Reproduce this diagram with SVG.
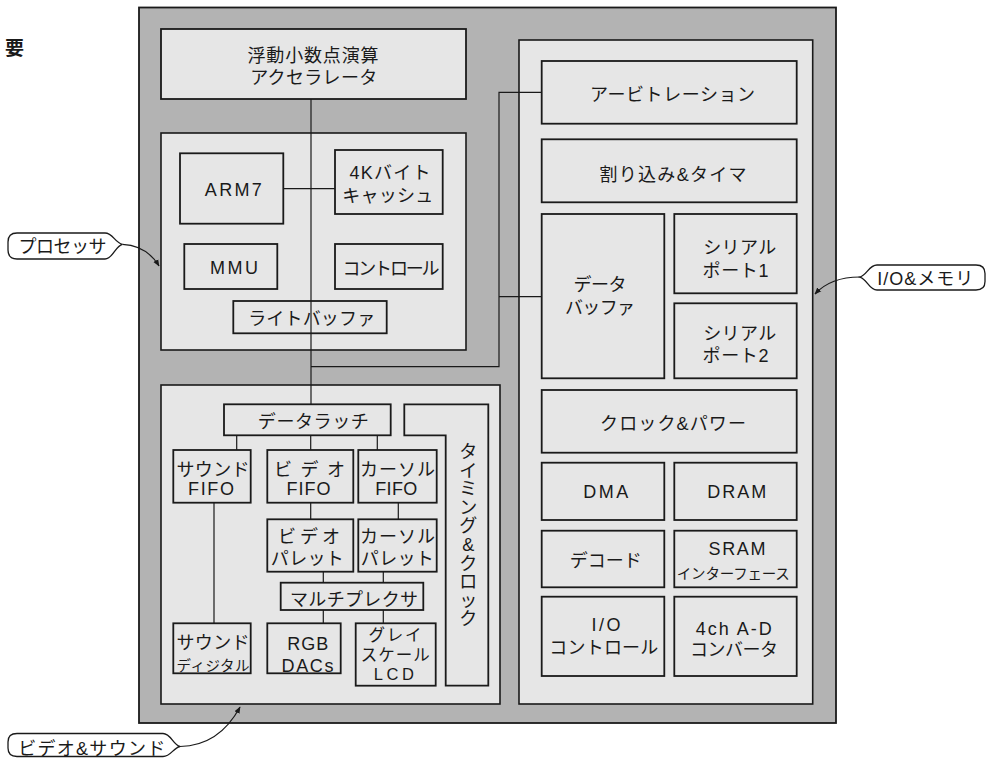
<svg xmlns="http://www.w3.org/2000/svg" width="995" height="759" viewBox="0 0 995 759">
<defs>
<style>
.bg{fill:#b3b3b3;stroke:#1a1a1a;stroke-width:1.8}
.panel{fill:#e6e6e6;stroke:#1a1a1a;stroke-width:1.6}
.box{fill:#e6e6e6;stroke:#1a1a1a;stroke-width:1.8}
.t{font-family:"Liberation Sans","Noto Sans CJK JP",sans-serif;font-size:18px;fill:#1a1a1a;text-anchor:middle}
.s{font-size:14.5px}
.m{font-size:16.5px}
.wire{fill:none;stroke:#1a1a1a;stroke-width:1.2}
.bub{fill:#ffffff;stroke:#1a1a1a;stroke-width:1.3}
.lead{fill:none;stroke:#1a1a1a;stroke-width:1.2}
</style>
<marker id="ah" viewBox="0 0 10 10" refX="9" refY="5" markerWidth="7" markerHeight="7" orient="auto" markerUnits="userSpaceOnUse">
<path d="M0,1 L10,5 L0,9 Z" fill="#1a1a1a"/>
</marker>
</defs>

<text x="24" y="55" style="font-family:'Noto Sans CJK JP',sans-serif;font-size:19px;font-weight:bold;fill:#1a1a1a;text-anchor:end">要</text>

<rect id="chip" class="bg" x="139" y="7.5" width="697" height="715.5"/>

<g id="accelerator">
<rect class="box" x="161" y="29" width="305" height="70"/>
<text class="t" x="313" y="61.5" textLength="131" lengthAdjust="spacing">浮動小数点演算</text>
<text class="t" x="313.7" y="83.5" textLength="127" lengthAdjust="spacing">アクセラレータ</text>
</g>

<g id="processor">
<rect class="panel" x="161" y="133" width="305" height="217"/>
</g>
<g id="arm7"><rect class="box" x="180" y="153.3" width="103.3" height="70.4"/>
<text class="t" x="233.3" y="195.5" textLength="57" lengthAdjust="spacing">ARM7</text></g>
<g id="cache"><rect class="box" x="335" y="150" width="107.7" height="64"/>
<text class="t" x="390" y="178.5" textLength="81" lengthAdjust="spacing">4Kバイト</text>
<text class="t" x="387.7" y="202" textLength="91" lengthAdjust="spacing">キャッシュ</text></g>
<g id="mmu"><rect class="box" x="184.3" y="244" width="93" height="45"/>
<text class="t" x="234" y="274" textLength="48" lengthAdjust="spacing">MMU</text></g>
<g id="control"><rect class="box" x="335" y="244" width="107.7" height="45"/>
<text class="t" x="391" y="275" textLength="97" lengthAdjust="spacing">コントロール</text></g>
<g id="writebuffer"><rect class="box" x="233.3" y="301" width="153.4" height="32.3"/>
<text class="t" x="311.7" y="325" textLength="127" lengthAdjust="spacing">ライトバッファ</text></g>

<g id="videosound">
<rect class="panel" x="161" y="385" width="339" height="319"/>
</g>
<g id="datalatch"><rect class="box" x="224" y="404.3" width="166.7" height="31"/>
<text class="t" x="313.3" y="428" textLength="111" lengthAdjust="spacing">データラッチ</text></g>
<g id="timing"><path class="box" d="M404.3,404.3 H488.3 V685.7 H445.7 V435.3 H404.3 Z"/>
<text class="t"><tspan x="468.3" y="458">タ</tspan><tspan x="468.3" y="476.6">イ</tspan><tspan x="468.3" y="495.2">ミ</tspan><tspan x="468.3" y="513.8">ン</tspan><tspan x="468.3" y="532.4">グ</tspan><tspan x="468.3" y="551">&amp;</tspan><tspan x="468.3" y="569.6">ク</tspan><tspan x="468.3" y="588.2">ロ</tspan><tspan x="468.3" y="606.8">ッ</tspan><tspan x="468.3" y="625.4">ク</tspan></text></g>
<g id="soundfifo"><rect class="box" x="173.3" y="450" width="77.4" height="52.7"/>
<text class="t" x="213" y="475.5" textLength="73" lengthAdjust="spacing">サウンド</text>
<text class="t" x="211" y="495" textLength="46" lengthAdjust="spacing">FIFO</text></g>
<g id="videofifo"><rect class="box" x="267.3" y="450" width="86" height="52.7"/>
<text class="t" x="309.5" y="475.5" textLength="71" lengthAdjust="spacing">ビデオ</text>
<text class="t" x="308.5" y="495" textLength="44" lengthAdjust="spacing">FIFO</text></g>
<g id="cursorfifo"><rect class="box" x="358.3" y="450" width="78.4" height="52.7"/>
<text class="t" x="397.5" y="475.5" textLength="75" lengthAdjust="spacing">カーソル</text>
<text class="t" x="396.3" y="495" textLength="42" lengthAdjust="spacing">FIFO</text></g>
<g id="videopalette"><rect class="box" x="267.3" y="519.3" width="86" height="52.4"/>
<text class="t" x="309" y="542.5" textLength="62" lengthAdjust="spacing">ビデオ</text>
<text class="t" x="307.3" y="564.5" textLength="73" lengthAdjust="spacing">パレット</text></g>
<g id="cursorpalette"><rect class="box" x="358.3" y="519.3" width="78.4" height="52.4"/>
<text class="t" x="397.5" y="542.5" textLength="75" lengthAdjust="spacing">カーソル</text>
<text class="t" x="397.3" y="564.5" textLength="73" lengthAdjust="spacing">パレット</text></g>
<g id="multiplexer"><rect class="box" x="280.7" y="582.7" width="142.6" height="27.3"/>
<text class="t" x="354" y="605.5" textLength="128" lengthAdjust="spacing">マルチプレクサ</text></g>
<g id="sounddigital"><rect class="box" x="173.3" y="623.3" width="77.4" height="50"/>
<text class="t" x="213" y="649" textLength="73" lengthAdjust="spacing">サウンド</text>
<text class="t s" x="213" y="670.5" textLength="73" lengthAdjust="spacing">ディジタル</text></g>
<g id="rgbdacs"><rect class="box" x="267.3" y="623.3" width="73.4" height="50"/>
<text class="t" x="307.8" y="650" textLength="41" lengthAdjust="spacing">RGB</text>
<text class="t" x="307.5" y="671.5" textLength="52" lengthAdjust="spacing">DACs</text></g>
<g id="graylcd"><rect class="box" x="355.7" y="623.3" width="80" height="62.4"/>
<text class="t m" x="395" y="641" textLength="53" lengthAdjust="spacing">グレイ</text>
<text class="t m" x="395.3" y="661" textLength="69" lengthAdjust="spacing">スケール</text>
<text class="t m" x="393.8" y="680" textLength="40" lengthAdjust="spacing">LCD</text></g>

<g id="iomemory">
<rect class="panel" x="519" y="40" width="293.7" height="664"/>
</g>
<g id="arbitration"><rect class="box" x="541.7" y="61" width="255" height="62.7"/>
<text class="t" x="672.5" y="100.5" textLength="165" lengthAdjust="spacing">アービトレーション</text></g>
<g id="interrupt"><rect class="box" x="541.7" y="139.3" width="255" height="63"/>
<text class="t" x="673" y="180.5" textLength="147" lengthAdjust="spacing">割り込み&amp;タイマ</text></g>
<g id="databuffer"><rect class="box" x="541.7" y="214" width="122.6" height="164.3"/>
<text class="t" x="600" y="290.5" textLength="53" lengthAdjust="spacing">データ</text>
<text class="t" x="600" y="314" textLength="70" lengthAdjust="spacing">バッファ</text></g>
<g id="serial1"><rect class="box" x="674.3" y="214" width="122.4" height="79.3"/>
<text class="t" x="739.7" y="254" textLength="73" lengthAdjust="spacing">シリアル</text>
<text class="t" x="735.5" y="276.5" textLength="66" lengthAdjust="spacing">ポート1</text></g>
<g id="serial2"><rect class="box" x="674.3" y="303.3" width="122.4" height="75"/>
<text class="t" x="739.7" y="340" textLength="73" lengthAdjust="spacing">シリアル</text>
<text class="t" x="735.5" y="362" textLength="66" lengthAdjust="spacing">ポート2</text></g>
<g id="clockpower"><rect class="box" x="541.7" y="390" width="255" height="62.7"/>
<text class="t" x="673" y="429.5" textLength="146" lengthAdjust="spacing">クロック&amp;パワー</text></g>
<g id="dma"><rect class="box" x="541.7" y="462.7" width="122.6" height="57.3"/>
<text class="t" x="605.8" y="498.3" textLength="45" lengthAdjust="spacing">DMA</text></g>
<g id="dram"><rect class="box" x="674.3" y="462.7" width="122.4" height="57.3"/>
<text class="t" x="736.7" y="498.3" textLength="59" lengthAdjust="spacing">DRAM</text></g>
<g id="decode"><rect class="box" x="541.7" y="530.7" width="122.6" height="56.6"/>
<text class="t" x="605.8" y="566.5" textLength="72" lengthAdjust="spacing">デコード</text></g>
<g id="sram"><rect class="box" x="674.3" y="530.7" width="122.4" height="56.6"/>
<text class="t" x="737" y="555" textLength="57" lengthAdjust="spacing">SRAM</text>
<text class="t s" x="733.3" y="579" textLength="113" lengthAdjust="spacing">インターフェース</text></g>
<g id="iocontrol"><rect class="box" x="541.7" y="596.7" width="122.6" height="79.3"/>
<text class="t" x="606" y="630.7" textLength="29" lengthAdjust="spacing">I/O</text>
<text class="t" x="603.8" y="654" textLength="109" lengthAdjust="spacing">コントロール</text></g>
<g id="adconverter"><rect class="box" x="674.3" y="596.7" width="122.4" height="79.3"/>
<text class="t" x="733.8" y="635" textLength="76" lengthAdjust="spacing">4ch A-D</text>
<text class="t" x="734" y="655.5" textLength="88" lengthAdjust="spacing">コンバータ</text></g>

<g id="connectors" class="wire">
<path d="M311,99 V404.3"/>
<path d="M283.3,188.7 H335"/>
<path d="M311,366.7 H499 V92.3 H541.7"/>
<path d="M499,296.7 H541.7"/>
<path d="M236.7,435.3 V450 M310.7,435.3 V450 M377.3,435.3 V450"/>
<path d="M310.7,502.7 V519.3 M398.3,502.7 V519.3"/>
<path d="M323.3,571.7 V582.7 M383.3,571.7 V582.7"/>
<path d="M323.3,610 V623.3 M383.3,610 V623.3"/>
<path d="M214,502.7 V623.3"/>
</g>

<g id="callout-processor">
<path class="bub" d="M122.5,244.3 C115,243 113,233 105,233 L17,233 Q8,233 8,242 L8,250 Q8,259 17,259 L105,259 C113,259 115,246 122.5,244.3 Z"/>
<path class="lead" marker-end="url(#ah)" d="M122.5,244.3 C137,245 150,251 159,266"/>
<text class="t" x="62.5" y="252.5" textLength="88" lengthAdjust="spacing">プロセッサ</text>
</g>
<g id="callout-videosound">
<path class="bub" d="M180,746.5 C173,745 171,733.5 163,733.5 L17,733.5 Q8,733.5 8,742 L8,748 Q8,756.5 17,756.5 L163,756.5 C171,756.5 173,748 180,746.5 Z"/>
<path class="lead" marker-end="url(#ah)" d="M180,746.5 C205,746 226,733 240,707"/>
<text class="t" x="91.7" y="754.5" textLength="147" lengthAdjust="spacing">ビデオ&amp;サウンド</text>
</g>
<g id="callout-iomemory">
<path class="bub" d="M860,277 C867,275 869,265 877,265 L976,265 Q985,265 985,273.5 L985,281.5 Q985,290 976,290 L877,290 C869,290 867,279 860,277 Z"/>
<path class="lead" marker-end="url(#ah)" d="M860,277 C842,277 826,282 815,294"/>
<text class="t" x="925.3" y="285" textLength="96" lengthAdjust="spacing">I/O&amp;メモリ</text>
</g>
</svg>
